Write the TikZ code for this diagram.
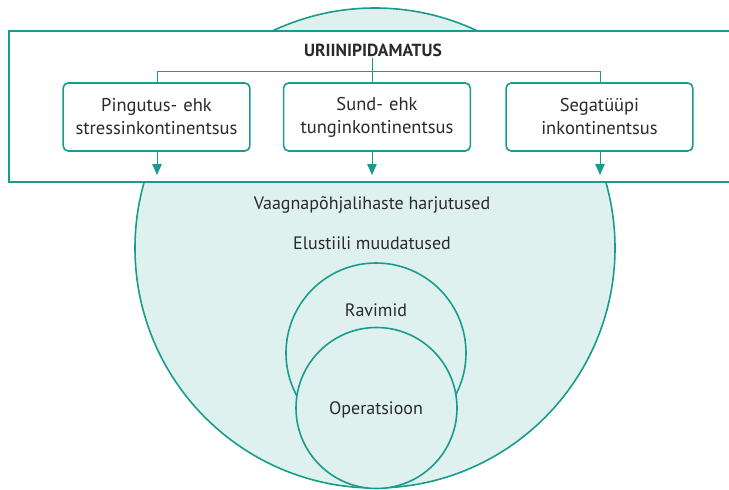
\documentclass[tikz,border=0pt]{standalone}
\usepackage{fontspec}
\setmainfont{PT Sans}
\usepackage{xcolor}
\usetikzlibrary{shapes, arrows.meta, positioning}
\definecolor{teal}{HTML}{1A9C8C}
\definecolor{paleteal}{HTML}{DFF1EF}
\definecolor{ink}{HTML}{2A2A2A}

\begin{document}
\begin{tikzpicture}
  [
    x=1pt, y=1pt,
    font=\fontsize{18}{23}\selectfont, text=ink,
    Ring/.style={circle, draw=teal, fill=paleteal, line width=1.6pt, inner sep=0pt},
    Frame/.style={draw=teal, fill=white, line width=1.8pt},
    Kind/.style={rectangle, rounded corners=5pt, draw=teal, fill=white, line width=1.6pt,
      minimum width=185pt, minimum height=68pt, align=center, text width=180pt,
      font=\fontsize{18.5}{23}\selectfont},
    Link/.style={draw=teal, line width=1pt},
    Flow/.style={draw=teal, line width=1pt, -{Triangle[length=11pt, width=9.5pt]}},
    Word/.style={inner sep=1pt}
  ]
  \useasboundingbox (0,0) rectangle (729,-490);
  % Circles
  \node[Ring, minimum size=480pt] (big) at (375,-248) {};
  \node[Ring, minimum size=180pt] (rav) at (376,-353) {};
  \node[Ring, minimum size=161pt] (op) at (376.5,-408) {};
  % Frame
  \path[Frame] (9,-31) rectangle (740,-182);
  % Nodes
  \node[Word, font=\fontsize{17.5}{21}\selectfont\bfseries] (uri) at (373,-50) {URIINIPIDAMATUS};
  \node[Kind] (stress) at (156.5,-117) {Pingutus- ehk\\stressinkontinentsus};
  \node[Kind] (urge) at (377,-117) {Sund- ehk\\tunginkontinentsus};
  \node[Kind] (mixed) at (599.5,-117) {Segatüüpi\\inkontinentsus};
  \node[Word] (pelvic) at (372,-205) {Vaagnapõhjalihaste harjutused};
  \node[Word] (life) at (372,-243) {Elustiili muudatused};
  \node[Word] (meds) at (376,-310) {Ravimid};
  \node[Word] (surg) at (376,-410) {Operatsioon};
  \coordinate (hl) at (157,-71);
  \coordinate (hr) at (600,-71);
  \coordinate (hm) at (372,-71);
  \coordinate (a1) at (157,-175);
  \coordinate (a2) at (372,-175);
  \coordinate (a3) at (600,-175);
  % Lines
  \path[Link] (hl) -- (hr);
  \path[Link] (uri.south -| hm) -- (urge.north -| hm);
  \path[Link] (hl) -- (stress.north -| hl);
  \path[Link] (hr) -- (mixed.north -| hr);
  \path[Flow] (stress.south -| a1) -- (a1);
  \path[Flow] (urge.south -| a2) -- (a2);
  \path[Flow] (mixed.south -| a3) -- (a3);
\end{tikzpicture}
\end{document}
